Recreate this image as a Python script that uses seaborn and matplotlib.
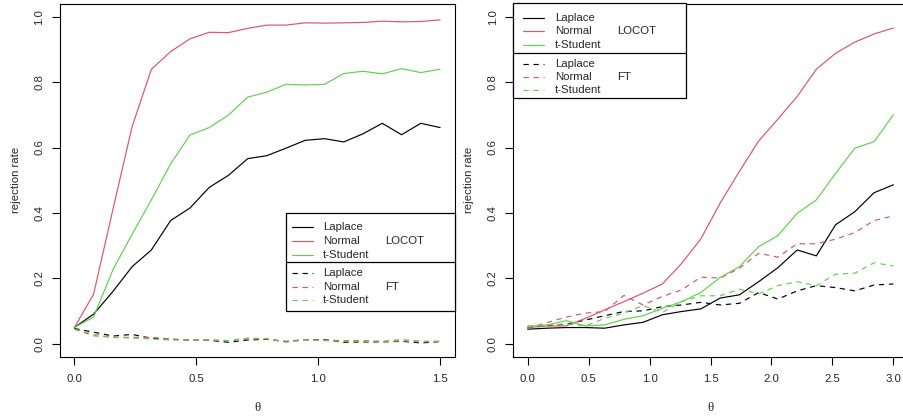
import numpy as np
import pandas as pd
import matplotlib
matplotlib.use("Agg")
import matplotlib.pyplot as plt
import seaborn as sns
from matplotlib.patches import Rectangle
from matplotlib.lines import Line2D

sns.set_style("white")
plt.rcParams['font.family'] = ['Liberation Sans', 'DejaVu Sans']

# ---------------- data ----------------
theta_left = [0.0, 0.079, 0.158, 0.237, 0.316, 0.395, 0.474, 0.553, 0.632, 0.711,
              0.789, 0.868, 0.947, 1.026, 1.105, 1.184, 1.263, 1.342, 1.421, 1.5]
theta_right = [0.0, 0.158, 0.316, 0.474, 0.632, 0.789, 0.947, 1.105, 1.263, 1.421,
               1.579, 1.737, 1.895, 2.053, 2.211, 2.368, 2.526, 2.684, 2.842, 3.0]

distributions = ["Laplace", "Normal", "t-Student"]
methods = ["LOCOT", "FT"]

# left panel
L_locot_laplace = [0.05, 0.091, 0.16, 0.236, 0.287, 0.377, 0.415, 0.478, 0.515, 0.566,
                   0.575, 0.598, 0.622, 0.627, 0.617, 0.642, 0.674, 0.639, 0.674, 0.661]
L_locot_normal = [0.05, 0.152, 0.41, 0.664, 0.839, 0.893, 0.932, 0.952, 0.951, 0.964,
                  0.974, 0.974, 0.981, 0.980, 0.981, 0.982, 0.986, 0.984, 0.985, 0.990]
L_locot_tstud = [0.05, 0.082, 0.226, 0.335, 0.44, 0.55, 0.638, 0.661, 0.699, 0.754,
                 0.769, 0.793, 0.791, 0.793, 0.826, 0.833, 0.825, 0.841, 0.829, 0.839]
L_ft_laplace = [0.047, 0.036, 0.024, 0.029, 0.017, 0.014, 0.012, 0.011, 0.005, 0.012,
                0.014, 0.007, 0.013, 0.013, 0.005, 0.006, 0.006, 0.008, 0.003, 0.007]
L_ft_normal = [0.045, 0.025, 0.02, 0.02, 0.02, 0.015, 0.012, 0.012, 0.01, 0.015,
               0.015, 0.008, 0.013, 0.012, 0.01, 0.01, 0.008, 0.013, 0.008, 0.008]
L_ft_tstud = [0.045, 0.03, 0.02, 0.018, 0.015, 0.012, 0.012, 0.012, 0.01, 0.018,
              0.016, 0.005, 0.012, 0.01, 0.008, 0.008, 0.006, 0.01, 0.006, 0.008]

# right panel
R_locot_laplace = [0.045, 0.048, 0.05, 0.05, 0.048, 0.058, 0.066, 0.089, 0.099, 0.107,
                   0.14, 0.150, 0.19, 0.233, 0.287, 0.269, 0.364, 0.404, 0.462, 0.486]
R_locot_normal = [0.05, 0.055, 0.055, 0.078, 0.104, 0.129, 0.155, 0.183, 0.246, 0.321,
                  0.43, 0.527, 0.62, 0.687, 0.756, 0.839, 0.888, 0.922, 0.947, 0.965]
R_locot_tstud = [0.053, 0.058, 0.071, 0.055, 0.058, 0.075, 0.086, 0.109, 0.129, 0.157,
                 0.203, 0.236, 0.297, 0.331, 0.399, 0.44, 0.521, 0.598, 0.618, 0.70]
R_ft_laplace = [0.05, 0.055, 0.06, 0.073, 0.086, 0.099, 0.101, 0.114, 0.119, 0.127,
                0.119, 0.124, 0.157, 0.137, 0.162, 0.178, 0.172, 0.162, 0.18, 0.183]
R_ft_normal = [0.048, 0.065, 0.082, 0.094, 0.099, 0.148, 0.119, 0.145, 0.165, 0.204,
               0.201, 0.231, 0.277, 0.265, 0.306, 0.306, 0.32, 0.34, 0.377, 0.391]
R_ft_tstud = [0.055, 0.058, 0.061, 0.055, 0.078, 0.094, 0.117, 0.096, 0.129, 0.147,
              0.147, 0.167, 0.153, 0.178, 0.19, 0.178, 0.213, 0.216, 0.248, 0.238]

x_ticks_left = [0.0, 0.5, 1.0, 1.5]
x_ticks_right = [0.0, 0.5, 1.0, 1.5, 2.0, 2.5, 3.0]
y_ticks = [0.0, 0.2, 0.4, 0.6, 0.8, 1.0]


def long_df(theta, series):
    rows = []
    for (method, dist), vals in series.items():
        for t, v in zip(theta, vals):
            rows.append({"theta": t, "rate": v, "dist": dist, "method": method})
    return pd.DataFrame(rows)


df_left = long_df(theta_left, {
    ("LOCOT", "Laplace"): L_locot_laplace, ("LOCOT", "Normal"): L_locot_normal,
    ("LOCOT", "t-Student"): L_locot_tstud, ("FT", "Laplace"): L_ft_laplace,
    ("FT", "Normal"): L_ft_normal, ("FT", "t-Student"): L_ft_tstud})
df_right = long_df(theta_right, {
    ("LOCOT", "Laplace"): R_locot_laplace, ("LOCOT", "Normal"): R_locot_normal,
    ("LOCOT", "t-Student"): R_locot_tstud, ("FT", "Laplace"): R_ft_laplace,
    ("FT", "Normal"): R_ft_normal, ("FT", "t-Student"): R_ft_tstud})

palette = {"Laplace": "#000000", "Normal": "#DF536B", "t-Student": "#61D04F"}
dash_map = {"LOCOT": "", "FT": (4.5, 4)}
LW = 0.85
FS = 8.2

W, H = 904, 417
fig = plt.figure(figsize=(W / 100, H / 100), dpi=100)
ax_l = fig.add_axes([59.7 / W, 60 / H, 395 / W, 353.5 / H])
ax_r = fig.add_axes([513 / W, 60 / H, 395 / W, 353.5 / H])


def style_axes(ax, df, xlim, xticks):
    sns.lineplot(data=df, x="theta", y="rate", hue="dist", style="method",
                 palette=palette, dashes=dash_map, hue_order=distributions,
                 style_order=methods, linewidth=LW, legend=False, ax=ax,
                 estimator=None, sort=False)
    ax.set_xlim(*xlim)
    ax.set_ylim(-0.04, 1.04)
    ax.set_xticks(xticks)
    ax.set_xticklabels([f"{t:.1f}" for t in xticks], fontsize=FS)
    ax.set_yticks(y_ticks)
    ax.set_yticklabels([f"{t:.1f}" for t in y_ticks], fontsize=FS)
    ax.tick_params(axis="both", direction="out", length=6, width=0.8,
                   color="black", left=True, bottom=True)
    ax.tick_params(axis="x", pad=6)
    ax.tick_params(axis="y", pad=5, labelrotation=90)
    for lab in ax.get_yticklabels():
        lab.set_va("center")
    for sp in ax.spines.values():
        sp.set_color("black")
        sp.set_linewidth(0.8)
        sp.set_visible(True)
    ax.set_xlabel("θ", family=["Liberation Serif", "DejaVu Serif"], fontsize=FS + 1,
                  labelpad=13)
    ax.set_ylabel("rejection rate", fontsize=FS, labelpad=10)
    ax.grid(False)


style_axes(ax_l, df_left, (-0.06, 1.56), x_ticks_left)
style_axes(ax_r, df_right, (-0.12, 3.12), x_ticks_right)


def fx(x):
    return x / W


def fy(y):
    return 1 - y / H


def draw_legend(box, divider, line_x, text_x, col2_x, rows1, rows2):
    x0, y0, x1, y1 = box
    fig.add_artist(Rectangle((fx(x0), fy(y1)), fx(x1) - fx(x0), fy(y0) - fy(y1),
                             transform=fig.transFigure, facecolor="white",
                             edgecolor="black", linewidth=0.9, zorder=5))
    fig.add_artist(Line2D([fx(x0), fx(x1)], [fy(divider), fy(divider)],
                          transform=fig.transFigure, color="black", linewidth=0.9,
                          zorder=6))
    for rows, method in ((rows1, "LOCOT"), (rows2, "FT")):
        for dist, ry in zip(distributions, rows):
            ls = "-" if method == "LOCOT" else (0, dash_map["FT"])
            fig.add_artist(Line2D([fx(line_x[0]), fx(line_x[1])], [fy(ry), fy(ry)],
                                  transform=fig.transFigure, color=palette[dist],
                                  linewidth=LW, linestyle=ls, zorder=7))
            fig.text(fx(text_x), fy(ry), dist, fontsize=FS, va="center", ha="left",
                     zorder=7)
        fig.text(fx(col2_x), fy(rows[1]), method, fontsize=FS, va="center",
                 ha="left", zorder=7)


draw_legend((286, 213.3, 454.7, 311), 262.3, (291.7, 312.7), 323, 385.3,
            (227.3, 241, 254.5), (273, 287, 300.3))
draw_legend((513, 3.3, 686, 98.3), 52.7, (523, 544), 554.7, 616.7,
            (17.7, 31.3, 44.7), (63.7, 77, 90.3))

fig.savefig("out.png", dpi=100)
